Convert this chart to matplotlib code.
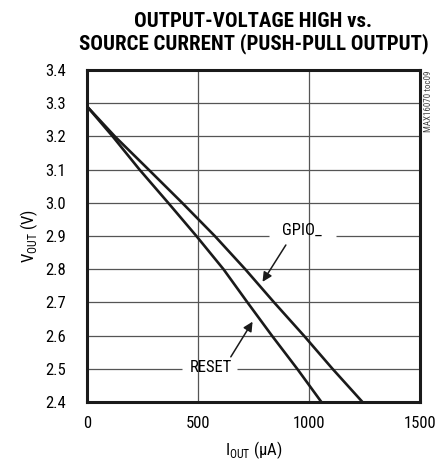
import matplotlib
matplotlib.use('Agg')
import matplotlib.pyplot as plt
import numpy as np

plt.rcParams['font.family'] = ['Roboto Condensed', 'DejaVu Sans']
plt.rcParams['mathtext.fontset'] = 'custom'
plt.rcParams['mathtext.rm'] = 'Roboto Condensed'

# curves (uA vs V)
vout = [3.29, 3.2, 3.1, 3.0, 2.9, 2.8, 2.7, 2.6, 2.5, 2.4]
gpio_i = [0, 125, 277, 428, 575, 712, 842, 976, 1105, 1240]
reset_i = [0, 115, 236, 365, 492, 614, 722, 832, 946, 1055]

xticks = [0, 500, 1000, 1500]
yticks = [2.4, 2.5, 2.6, 2.7, 2.8, 2.9, 3.0, 3.1, 3.2, 3.3, 3.4]

fig = plt.figure(figsize=(4.47, 4.61), dpi=100)
ax = fig.add_axes([0.195, 0.128, 0.745, 0.72])

grid_col = '#555555'
# horizontal grid, two of them broken for the labels
for y in yticks[1:-1]:
    if abs(y - 2.9) < 1e-6:
        ax.hlines(y, 0, 820, color=grid_col, lw=0.9)
        ax.hlines(y, 1122, 1500, color=grid_col, lw=0.9)
    elif abs(y - 2.5) < 1e-6:
        ax.hlines(y, 0, 428, color=grid_col, lw=0.9)
        ax.hlines(y, 676, 1500, color=grid_col, lw=0.9)
    else:
        ax.hlines(y, 0, 1500, color=grid_col, lw=0.9)
for x in xticks[1:-1]:
    ax.vlines(x, 2.4, 3.4, color=grid_col, lw=0.9)

ax.plot(gpio_i, vout, color='#1a1a1a', lw=1.9, solid_joinstyle='round')
ax.plot(reset_i, vout, color='#1a1a1a', lw=1.9, solid_joinstyle='round')

ax.text(968, 2.918, 'GPIO_', ha='center', va='center', fontsize=12)
ax.annotate('', xy=(790, 2.762), xytext=(895, 2.873),
            arrowprops=dict(arrowstyle='-|>', color='#1a1a1a', lw=1.1,
                            mutation_scale=14, shrinkA=0, shrinkB=0))
ax.text(559, 2.505, 'RESET', ha='center', va='center', fontsize=12)
ax.annotate('', xy=(745, 2.642), xytext=(647, 2.536),
            arrowprops=dict(arrowstyle='-|>', color='#1a1a1a', lw=1.1,
                            mutation_scale=14, shrinkA=0, shrinkB=0))

ax.set_xlim(0, 1500)
ax.set_ylim(2.4, 3.4)
ax.set_xticks(xticks)
ax.set_yticks(yticks)
ax.set_yticklabels(['%.1f' % v for v in yticks])
ax.tick_params(length=0, labelsize=12, pad=10)
ax.tick_params(axis='y', pad=15)
for s in ax.spines.values():
    s.set_linewidth(2.2)
    s.set_color('#1a1a1a')

ax.set_xlabel(r'I$_{\mathrm{OUT}}$ ($\mathrm{\mu}$A)', fontsize=12, labelpad=6)
ax.set_ylabel(r'V$_{\mathrm{OUT}}$ (V)', fontsize=12, labelpad=4)

fig.text(0.567, 0.953, 'OUTPUT-VOLTAGE HIGH vs.', ha='center', va='center',
         fontsize=15, fontweight=900)
fig.text(0.567, 0.905, 'SOURCE CURRENT (PUSH-PULL OUTPUT)', ha='center', va='center',
         fontsize=15, fontweight=900)
fig.text(0.958, 0.848, 'MAX16070 toc09', rotation=90, ha='center', va='top',
         fontsize=6.5, color='#444444')

fig.savefig('out.png', dpi=100)
